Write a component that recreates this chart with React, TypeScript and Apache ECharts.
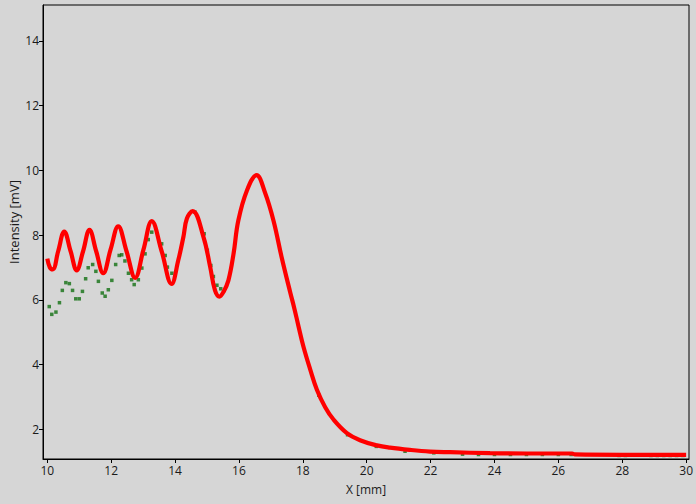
import React, { useEffect, useRef } from "react";
import * as echarts from "echarts";

const xTicks = [10, 12, 14, 16, 18, 20, 22, 24, 26, 28, 30];
const yTicks = [2, 4, 6, 8, 10, 12, 14];

const redX = [
  10.0, 10.08, 10.17, 10.34, 10.53, 10.73, 10.92, 11.12, 11.32, 11.53, 11.75, 11.98,
  12.22, 12.48, 12.75, 13.01, 13.27, 13.58, 13.89, 14.1, 14.26, 14.37, 14.55, 14.89,
  15.1, 15.25, 15.39, 15.52, 15.67, 15.83, 15.98, 16.25, 16.55, 16.82, 17.08, 17.34,
  17.6, 17.73, 17.86, 18.02, 18.23, 18.44, 18.7, 18.96, 19.38, 19.79, 20.32, 20.73,
  21.36, 21.98, 22.61, 23.86, 25.0, 26.43, 26.52, 28.0, 30.0,
];
const redY = [
  7.27, 7.0, 6.94, 7.5, 8.11, 7.5, 6.91, 7.5, 8.16, 7.5, 6.82, 7.55,
  8.27, 7.5, 6.68, 7.55, 8.43, 7.5, 6.49, 7.22, 7.94, 8.51, 8.74, 7.94,
  7.01, 6.29, 6.1, 6.25, 6.6, 7.42, 8.45, 9.38, 9.85, 9.3, 8.45, 7.3,
  6.25, 5.75, 5.2, 4.55, 3.85, 3.22, 2.68, 2.3, 1.88, 1.66, 1.5, 1.43,
  1.36, 1.31, 1.29, 1.26, 1.25, 1.25, 1.22, 1.21, 1.21,
];

const greenX = [
  10.06, 10.14, 10.27, 10.38, 10.47, 10.58, 10.69, 10.79, 10.89, 11.0, 11.1, 11.2,
  11.28, 11.42, 11.52, 11.6, 11.72, 11.81, 11.91, 12.02, 12.14, 12.25, 12.33, 12.43,
  12.54, 12.64, 12.72, 12.85, 12.96, 13.06, 13.16, 13.27, 13.58, 13.69, 13.76, 13.9,
  14.62, 14.91, 15.01, 15.12, 15.2, 15.31, 15.43, 18.5, 19.4, 20.3, 21.2, 22.1,
  23.0, 23.5, 24.0, 24.5, 25.0, 25.5, 26.0, 26.4, 27.9, 28.1, 28.9, 29.1, 29.3, 29.5, 29.7, 29.9,
];
const greenY = [
  5.79, 5.55, 5.62, 5.91, 6.29, 6.53, 6.5, 6.29, 6.03, 6.03, 6.26, 6.65,
  6.99, 7.09, 6.88, 6.57, 6.21, 6.11, 6.31, 6.6, 7.09, 7.37, 7.39, 7.2,
  6.82, 6.62, 6.47, 6.62, 6.98, 7.42, 7.86, 8.09, 7.73, 7.37, 7.01, 6.82,
  8.71, 8.04, 7.53, 7.06, 6.72, 6.45, 6.34, 3.05, 1.83, 1.47, 1.32, 1.27,
  1.23, 1.22, 1.22, 1.22, 1.22, 1.22, 1.22, 1.22, 1.19, 1.19, 1.19, 1.19, 1.19, 1.19, 1.19, 1.19,
];

const FONT = "'Open Sans', 'Noto Sans', sans-serif";

export default function App() {
  const ref = useRef<HTMLDivElement>(null);
  useEffect(() => {
    document.body.style.margin = "0";
    const chart = echarts.init(ref.current!, null, { renderer: "svg" });
    const red = redX.map((x, i) => [x, redY[i]]);
    const green = greenX.map((x, i) => [x, greenY[i]]);
    chart.setOption({
      animation: false,
      backgroundColor: "#d6d6d6",
      textStyle: { fontFamily: FONT },
      grid: {
        left: 43,
        top: 5,
        right: 7,
        bottom: 45,
        show: true,
        borderColor: "#000",
        borderWidth: 1,
        backgroundColor: "transparent",
      },
      xAxis: {
        type: "value",
        min: 9.865,
        max: 30.09,
        name: "X [mm]",
        nameLocation: "middle",
        nameGap: 24,
        nameTextStyle: { color: "#1a1a1a", fontSize: 12, fontFamily: FONT },
        axisLine: { show: true, lineStyle: { color: "#000", width: 1 } },
        axisTick: { show: true, length: 4, lineStyle: { color: "#000" }, customValues: xTicks },
        axisLabel: { color: "#1a1a1a", fontSize: 12, margin: 5, customValues: xTicks, fontFamily: FONT },
        splitLine: { show: false },
      },
      yAxis: {
        type: "value",
        min: 1.08,
        max: 15.11,
        axisLine: { show: true, lineStyle: { color: "#000", width: 1 } },
        axisTick: { show: true, length: 4, lineStyle: { color: "#000" }, customValues: yTicks },
        axisLabel: { color: "#1a1a1a", fontSize: 12, margin: 4, customValues: yTicks, fontFamily: FONT },
        splitLine: { show: false },
      },
      graphic: [
        {
          type: "text",
          x: 14,
          y: 222,
          rotation: Math.PI / 2,
          style: {
            text: "Intensity [mV]",
            fill: "#1a1a1a",
            fontSize: 13,
            fontFamily: FONT,
            textAlign: "center",
            textVerticalAlign: "middle",
          },
        },
      ],
      series: [
        {
          type: "scatter",
          data: green,
          symbol: "rect",
          symbolSize: 3.5,
          itemStyle: { color: "#137013" },
          z: 1,
        },
        {
          type: "line",
          data: red,
          smooth: 0.4,
          showSymbol: false,
          lineStyle: { color: "#ff0000", width: 4.2 },
          z: 2,
        },
      ],
    });
    return () => chart.dispose();
  }, []);
  return <div ref={ref} style={{ width: 696, height: 504 }} />;
}
